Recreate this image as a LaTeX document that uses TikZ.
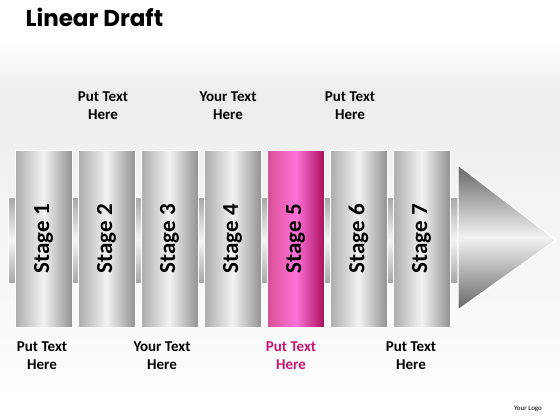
\documentclass[tikz,border=0pt]{standalone}
\usepackage{fontspec}
\setmainfont{Carlito}
\newfontfamily\titlefont{Poppins}
\usetikzlibrary{positioning, shapes}
\definecolor{stagepink}{HTML}{C8156F}
\tikzset{stagebox/.style={rectangle, draw=white, line width=1pt, minimum width=57pt, minimum height=177pt, inner sep=0pt,
    left color=gray!65, right color=gray!85, middle color=gray!10, font=\bfseries\fontsize{23}{25}\selectfont},
  pinkbox/.style={stagebox, left color=stagepink!75, right color=stagepink!85!black, middle color=magenta!40!pink},
  notetext/.style={align=center, font=\bfseries\fontsize{15}{18}\selectfont}}

\begin{document}
\begin{tikzpicture}[x=1pt, y=-1pt]
    \useasboundingbox (0,0) rectangle (560,420);
    \fill[white] (0,0) rectangle (560,420);
    \shade[top color=white, bottom color=gray!14] (0,40) rectangle (560,95);
    \shade[top color=gray!14, bottom color=white] (0,95) rectangle (560,420);
    \node[anchor=west, font=\titlefont\bfseries\fontsize{23}{25}\selectfont] (title) at (22,17) {Linear Draft};
    % bar and arrow head
    \shade[top color=gray!70, bottom color=gray!70, middle color=gray!8, draw=white, line width=1pt] (8,197) rectangle (458,283);
    \shade[top color=gray!80!black, bottom color=gray!80!black, middle color=gray!10, draw=white, line width=1.2pt]
        (458,165) -- (556,240) -- (458,310) -- cycle;
    \foreach \i in {1,...,7} {
        \node[stagebox] (stage\i) at ({43.5+63*(\i-1)},238.5) {\rotatebox{90}{Stage \i}};
    }
    \node[pinkbox] (stage5) at (295.5,238.5) {\rotatebox{90}{Stage 5}};
    % notes
    \node[notetext] (note2) at (103,106) {Put Text\\Here};
    \node[notetext] (note4) at (228,106) {Your Text\\Here};
    \node[notetext] (note6) at (350,106) {Put Text\\Here};
    \node[notetext] (note1) at (42,356) {Put Text\\Here};
    \node[notetext] (note3) at (162,356) {Your Text\\Here};
    \node[notetext, text=stagepink] (note5) at (291,356) {Put Text\\Here};
    \node[notetext] (note7) at (411,356) {Put Text\\Here};
    \node[font=\fontsize{7}{8}\selectfont] (logo) at (528,409) {Your Logo};
\end{tikzpicture}
\end{document}
